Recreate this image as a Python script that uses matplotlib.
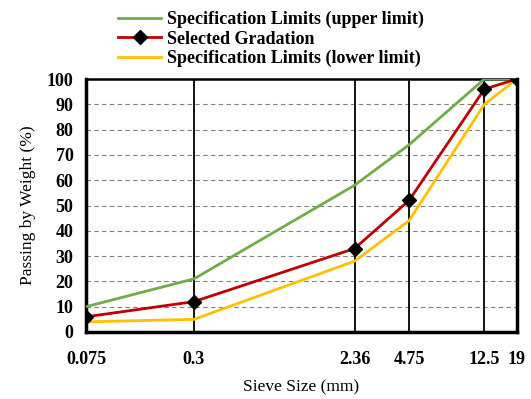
import matplotlib.pyplot as plt
import numpy as np

sieve = [0.075, 0.3, 2.36, 4.75, 12.5, 19]
sieve_labels = ["0.075", "0.3", "2.36", "4.75", "12.5", "19"]
upper = [10, 21, 58, 74, 100, 100]
selected = [6, 12, 33, 52, 96, 100]
lower = [4, 5, 28, 44, 90, 100]

plt.rcParams['font.family'] = ['Liberation Serif', 'DejaVu Serif']

fig = plt.figure(figsize=(5.31, 3.99), dpi=100)
ax = fig.add_axes([86/531, 67/399, 431/531, 253/399])

ax.plot(sieve, upper, color="#70ad47", lw=2, label="Specification Limits (upper limit)", zorder=3)
ax.plot(sieve, selected, color="#c00000", lw=2, marker="D", ms=7, mfc="black", mec="black",
        label="Selected Gradation", zorder=5)
ax.plot(sieve, lower, color="#ffc000", lw=2, label="Specification Limits (lower limit)", zorder=4)

ax.set_xscale("log")
ax.set_xlim(0.075, 19)
ax.set_ylim(0, 100)
ax.set_yticks(np.arange(0, 101, 10))
ax.set_xticks(sieve)
ax.set_xticklabels(sieve_labels)
ax.minorticks_off()
ax.tick_params(axis="x", length=0, pad=14, labelsize=13)
ax.tick_params(axis="y", length=0, pad=9, labelsize=13)
for lab in ax.get_xticklabels() + ax.get_yticklabels():
    lab.set_fontweight("bold")

for s in sieve:
    ax.axvline(s, color="black", lw=1.3, zorder=2)
ax.yaxis.grid(True, linestyle=(0, (4, 3)), color="#808080", lw=0.8)
ax.set_axisbelow(True)

for side in ["left", "bottom", "right"]:
    ax.spines[side].set_linewidth(2.5)
ax.spines["top"].set_linewidth(1.8)

ax.set_xlabel("Sieve Size (mm)", fontsize=12.5, labelpad=8)
ax.set_ylabel("Passing by Weight (%)", fontsize=12.5, labelpad=8)

fig.legend(loc="upper left", bbox_to_anchor=(109/531, 1 - 2/399), frameon=False,
           prop={"weight": "bold", "size": 13}, handlelength=2.4, handletextpad=0.3,
           labelspacing=0.12, borderpad=0)

fig.savefig("out.png", dpi=100)
